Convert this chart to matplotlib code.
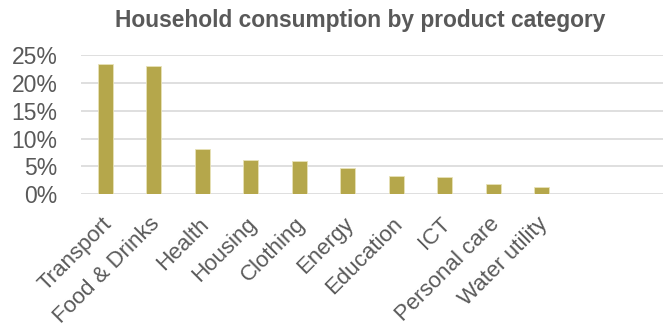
import matplotlib
matplotlib.use('Agg')
import matplotlib.pyplot as plt
from matplotlib.ticker import PercentFormatter
from matplotlib.transforms import ScaledTranslation

categories = ['Transport', 'Food & Drinks', 'Health', 'Housing', 'Clothing',
              'Energy', 'Education', 'ICT', 'Personal care', 'Water utility', '', '']
shares = [23.5, 23.0, 8.2, 6.1, 6.0, 4.8, 3.3, 3.05, 1.8, 1.3, 0, 0]

plt.rcParams['font.family'] = ['Liberation Sans', 'DejaVu Sans']
grey = '#595959'

fig = plt.figure(figsize=(6.64, 3.31), dpi=100)
ax = fig.add_axes([0.122, 0.413, 0.876, 0.42])

x = list(range(len(categories)))
ax.bar(x, shares, width=0.31, color='#B5A74B', edgecolor='#E8E2B8', linewidth=0.6, zorder=3)

ax.set_xlim(-0.5, len(categories) - 0.5)
ax.set_ylim(0, 25)
ax.set_yticks([0, 5, 10, 15, 20, 25])
ax.yaxis.set_major_formatter(PercentFormatter(decimals=0))
ax.grid(axis='y', color='#D9D9D9', linewidth=1.2, zorder=0)
for s in ax.spines.values():
    s.set_visible(False)
ax.tick_params(axis='y', length=0, labelsize=16.5, colors=grey, pad=17)
ax.tick_params(axis='x', length=0, labelsize=16, colors=grey, pad=14)

ax.set_xticks(x)
ax.set_xticklabels(categories, rotation=45, ha='right', rotation_mode='anchor')
# nudge the rotated labels a little to the left
shift = ScaledTranslation(-3 / 72, 0, fig.dpi_scale_trans)
for lab in ax.get_xticklabels():
    lab.set_transform(lab.get_transform() + shift)

fig.suptitle('Household consumption by product category', x=0.543, y=0.972,
             fontsize=16.4, fontweight='bold', color=grey)

fig.savefig('out.png', dpi=100)
